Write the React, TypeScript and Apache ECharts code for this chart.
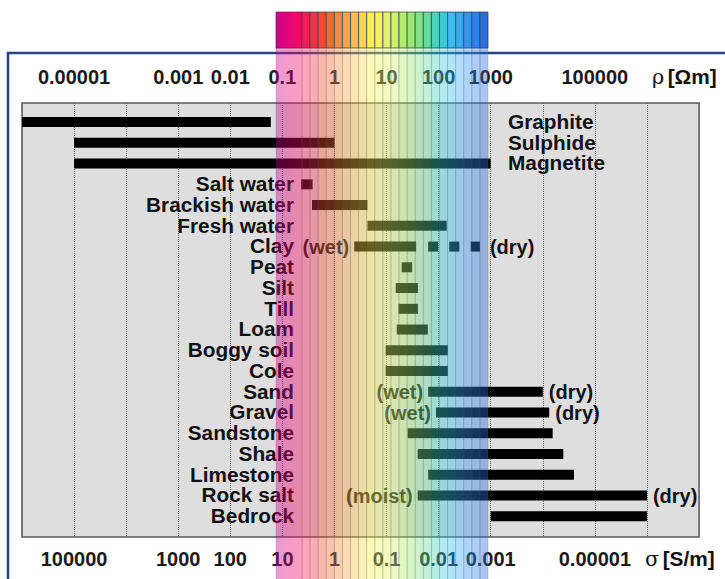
import React, { useEffect, useRef } from "react";
import * as echarts from "echarts";

// ---------- data ----------
const materials = [
  "Graphite", "Sulphide", "Magnetite", "Salt water", "Brackish water", "Fresh water",
  "Clay", "Peat", "Silt", "Till", "Loam", "Boggy soil", "Cole", "Sand", "Gravel",
  "Sandstone", "Shale", "Limestone", "Rock salt", "Bedrock",
];
// resistivity range, ρ [Ωm]
const rhoLow = [
  0.000001, 0.00001, 0.00001, 0.23, 0.37, 4.3,
  2.4, 19.5, 15, 17, 15.7, 9.6, 9.6, 63, 89,
  25.5, 39.6, 63, 39.6, 1000,
];
const rhoHigh = [
  0.06, 1, 1000, 0.38, 4.3, 143,
  37, 31, 40, 40, 62, 150, 150, 10000, 13300,
  15500, 24800, 39700, 1000000, 1000000,
];
// dashed (dry) extension of clay
const clayDryDashes = [[63, 98], [160, 250], [413, 622]];
const clayRow = "Clay";
const lowNotes = ["", "", "", "", "", "", "(wet)", "", "", "", "", "", "", "(wet)", "(wet)", "", "", "", "(moist)", ""];
const highNotes = ["", "", "", "", "", "", "(dry)", "", "", "", "", "", "", "(dry)", "(dry)", "", "", "", "(dry)", ""];

const rhoTickValues = [0.00001, 0.001, 0.01, 0.1, 1, 10, 100, 1000, 100000];
const rhoTickLabels = ["0.00001", "0.001", "0.01", "0.1", "1", "10", "100", "1000", "100000"];
const sigmaTickValues = [100000, 1000, 100, 10, 1, 0.1, 0.01, 0.001, 0.00001];
const sigmaTickLabels = ["100000", "1000", "100", "10", "1", "0.1", "0.01", "0.001", "0.00001"];

// colour stripes of the spectrum band (style)
const stripeColors = [
  "#f51d5a", "#f5304a", "#f74a35", "#f86a35", "#f98a3f", "#fba445", "#fcbd4a", "#fdd84e",
  "#fdef4e", "#f4f55a", "#e2f465", "#ccf06c", "#b4ec70", "#9ae874", "#80e282", "#62dca0",
  "#48d4bc", "#3ccadb", "#3cbbec", "#3aa9f2", "#3595f2", "#2f82ee", "#2a6fe0",
];

const FONT_FAMILY = '"Liberation Sans", Arial, sans-serif';
const FONT = `bold 20px ${FONT_FAMILY}`;
const ROW_SCALE_X = 1.04;

const App = () => {
  const ref = useRef<HTMLDivElement>(null);

  useEffect(() => {
    const chart = echarts.init(ref.current!, null, { renderer: "svg" });

    const lg = (v: number) => Math.log10(v);

    const barData: number[][] = [];
    materials.forEach((_, i) => {
      barData.push([lg(rhoLow[i]), lg(rhoHigh[i]), i]);
    });
    const clayIdx = materials.indexOf(clayRow);
    clayDryDashes.forEach((d) => barData.push([lg(d[0]), lg(d[1]), clayIdx]));

    const textData = materials.map((_, i) => [lg(rhoLow[i]), i]);

    const fmt = (values: number[], labels: string[]) => (v: number) => {
      const k = values.findIndex((t) => Math.round(lg(t)) === Math.round(v));
      return k >= 0 ? labels[k] : "";
    };

    // spectrum band geometry (decoration)
    const bandL = 276;
    const firstW = 26;
    const bandR = 488;
    const narrowW = (bandR - bandL - firstW) / stripeColors.length;
    const stripes: { x: number; w: number; fill: any }[] = [];
    stripes.push({
      x: bandL,
      w: firstW,
      fill: new echarts.graphic.LinearGradient(0, 0, 1, 0, [
        { offset: 0, color: "#c8008e" },
        { offset: 1, color: "#ff0a62" },
      ]),
    });
    stripeColors.forEach((c, k) => stripes.push({ x: bandL + firstW + k * narrowW, w: narrowW, fill: c }));

    const graphics: any[] = [
      {
        type: "rect",
        z: 1,
        shape: { x: 8, y: 53, width: 760, height: 600 },
        style: { fill: "none", stroke: "#25467f", lineWidth: 2.5 },
      },
    ];
    stripes.forEach((s) => {
      graphics.push({
        type: "rect",
        z: 60,
        shape: { x: s.x, y: 12, width: s.w, height: 36 },
        style: { fill: s.fill, stroke: "#3a3a3a", lineWidth: 0.7 },
      });
      graphics.push({
        type: "rect",
        z: 60,
        shape: { x: s.x, y: 48, width: s.w, height: 540 },
        style: { fill: s.fill, stroke: "#555555", lineWidth: 0.5, opacity: 0.4 },
      });
    });
    graphics.push({
      type: "text",
      z: 10,
      x: 652,
      y: 77,
      scaleX: ROW_SCALE_X,
      style: {
        text: "{g|ρ} {b|[Ωm]}",
        verticalAlign: "middle",
        rich: {
          g: { font: `20px "DejaVu Serif", serif`, fill: "#111" },
          b: { font: FONT, fill: "#111" },
        },
      },
    });
    graphics.push({
      type: "text",
      z: 10,
      x: 645,
      y: 559,
      scaleX: ROW_SCALE_X,
      style: {
        text: "{g|σ} {b|[S/m]}",
        verticalAlign: "middle",
        rich: {
          g: { font: `20px "DejaVu Serif", serif`, fill: "#111" },
          b: { font: FONT, fill: "#111" },
        },
      },
    });

    const option: any = {
      animation: false,
      backgroundColor: "#ffffff",
      textStyle: { fontFamily: FONT_FAMILY },
      grid: {
        left: 22,
        right: 26,
        top: 103,
        bottom: 42,
        show: true,
        backgroundColor: "#dedede",
        borderColor: "#5a5a5a",
        borderWidth: 1.5,
      },
      xAxis: [
        {
          type: "value",
          position: "top",
          min: -6,
          max: 7,
          interval: 1,
          axisLine: { show: false },
          axisTick: { show: false },
          splitLine: { show: true, lineStyle: { color: "#606060", type: "dotted", width: 1 } },
          axisLabel: {
            margin: 16,
            fontSize: 20,
            fontWeight: "bold",
            color: "#1a1a1a",
            fontFamily: FONT_FAMILY,
            formatter: fmt(rhoTickValues, rhoTickLabels),
          },
        },
        {
          type: "value",
          position: "bottom",
          inverse: true,
          min: -7,
          max: 6,
          interval: 1,
          axisLine: { show: false },
          axisTick: { show: false },
          splitLine: { show: false },
          axisLabel: {
            margin: 12,
            fontSize: 20,
            fontWeight: "bold",
            color: "#1a1a1a",
            fontFamily: FONT_FAMILY,
            formatter: fmt(sigmaTickValues, sigmaTickLabels),
          },
        },
      ],
      yAxis: {
        type: "value",
        inverse: true,
        min: -0.92,
        max: 20,
        show: false,
      },
      series: [
        {
          type: "custom",
          xAxisIndex: 0,
          yAxisIndex: 0,
          data: barData,
          encode: { x: [0, 1], y: 2 },
          renderItem: (params: any, api: any) => {
            const a = api.coord([api.value(0), api.value(2)]);
            const b = api.coord([api.value(1), api.value(2)]);
            const h = 10;
            return {
              type: "rect",
              shape: { x: a[0], y: a[1] - h / 2, width: b[0] - a[0], height: h },
              style: { fill: "#000000" },
            };
          },
        },
        {
          type: "custom",
          xAxisIndex: 0,
          yAxisIndex: 0,
          data: textData,
          encode: { x: 0, y: 1 },
          renderItem: (params: any, api: any) => {
            const i = params.dataIndex;
            const row = api.value(1);
            const cy = api.coord([0, row])[1];
            const rightSide = i < 3;
            const children: any[] = [
              {
                type: "text",
                x: rightSide ? 508 : 294,
                y: cy,
                scaleX: ROW_SCALE_X,
                style: {
                  text: materials[i],
                  x: 0,
                  y: 0,
                  align: rightSide ? "left" : "right",
                  verticalAlign: "middle",
                  font: FONT,
                  fill: "#111",
                },
              },
            ];
            if (lowNotes[i]) {
              const lx = api.coord([lg(rhoLow[i]), row])[0];
              children.push({
                type: "text",
                style: { text: lowNotes[i], x: lx - 5, y: cy, align: "right", verticalAlign: "middle", font: FONT, fill: "#111" },
              });
            }
            if (highNotes[i]) {
              let hi = rhoHigh[i];
              if (i === clayIdx) clayDryDashes.forEach((d) => (hi = Math.max(hi, d[1])));
              const hx = api.coord([lg(hi), row])[0];
              children.push({
                type: "text",
                style: { text: highNotes[i], x: hx + (i === clayIdx ? 10 : 6), y: cy, align: "left", verticalAlign: "middle", font: FONT, fill: "#111" },
              });
            }
            return { type: "group", children };
          },
        },
      ],
      graphic: { elements: graphics },
    };

    chart.setOption(option);
    return () => chart.dispose();
  }, []);

  return (
    <div
      ref={ref}
      style={{ position: "fixed", left: 0, top: 0, width: 725, height: 579, background: "#fff" }}
    />
  );
};

export default App;
